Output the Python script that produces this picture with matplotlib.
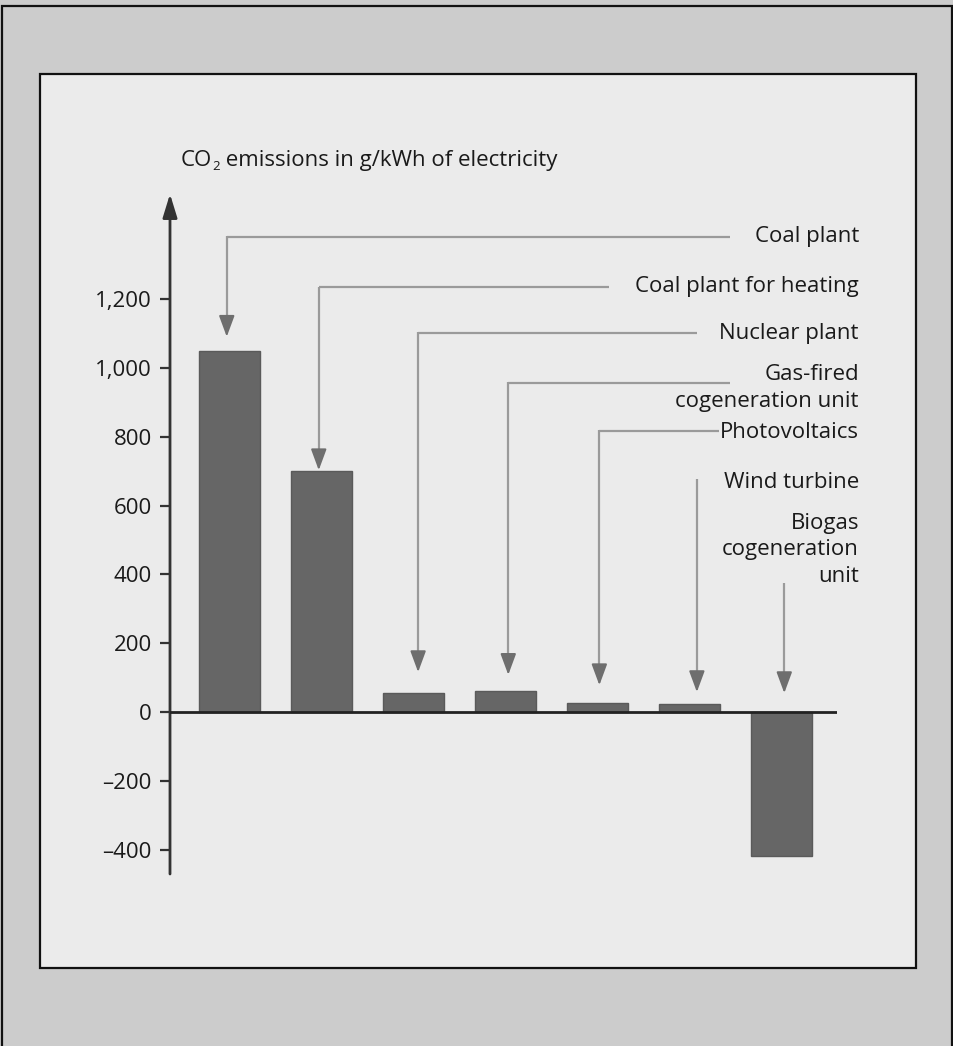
import matplotlib
matplotlib.use("Agg")
import matplotlib.pyplot as plt
from matplotlib.patches import Rectangle

plt.rcParams['font.family'] = ['Open Sans', 'DejaVu Sans']

# ---- data ----
categories = ["Coal plant", "Coal plant for heating", "Nuclear plant",
              "Gas-fired\ncogeneration unit", "Photovoltaics", "Wind turbine",
              "Biogas\ncogeneration\nunit"]
values = [1050, 700, 55, 60, 26, 22, -420]
yticks = [-400, -200, 0, 200, 400, 600, 800, 1000, 1200]
ytick_labels = ["\u2013400", "\u2013200", "0", "200", "400", "600", "800", "1,000", "1,200"]
title_parts = ["CO", "2", " emissions in g/kWh of electricity"]

# ---- layout (callouts) ----
line_y = [1381, 1235, 1102, 956, 817, 674, 372]      # start height of leader
line_end = [5.44, 4.125, 5.08, 5.44, 5.32, None, None]  # horizontal leader end (x)
arrow_dx = [-0.03, -0.03, 0.05, 0.03, 0.02, 0.08, 0.03]
arrow_gap = [41, 3, 61, 48, 52, 36, 55]
label_y = [1381, 1238, 1099, 942, 814, 666, 471]
label_x = 6.842

W, H = 954, 1046
fig = plt.figure(figsize=(W / 100, H / 100), dpi=100, facecolor="#cccccc")

# background panels
fig.patches.append(Rectangle((2 / W, -0.05), 950 / W, 1.05 - 6 / H,
                             transform=fig.transFigure, facecolor="#cccccc",
                             edgecolor="#111111", lw=1.6, zorder=-3))
fig.patches.append(Rectangle((40 / W, 1 - 968 / H), 876 / W, 894 / H,
                             transform=fig.transFigure, facecolor="#ebebeb",
                             edgecolor="#111111", lw=1.6, zorder=-2))

ax = fig.add_axes([170 / W, 1 - 874 / H, 667 / W, 680 / H])
ax.set_facecolor("none")
ax.set_xlim(-0.647, 6.603)
ax.set_ylim(-471, 1506)

x = list(range(len(values)))
ax.bar(x, values, width=0.663, color="#666666", edgecolor="#5a5a5a", lw=1.0, zorder=3)
ax.axhline(0, color="#222222", lw=2.0, zorder=4)

for s in ["top", "right", "bottom", "left"]:
    ax.spines[s].set_visible(False)
ax.set_xticks([])
ax.set_yticks(yticks)
ax.set_yticklabels(ytick_labels)
ax.tick_params(axis="y", direction="out", length=7, width=1.6, color="#333333",
               labelsize=16, labelcolor="#1a1a1a", pad=6)

# y axis with arrow
ax.annotate("", xy=(0, 1.0), xytext=(0, 0), xycoords="axes fraction",
            arrowprops=dict(arrowstyle="-|>,head_length=0.65,head_width=0.2",
                            color="#333333", lw=2.0,
                            mutation_scale=22, shrinkA=0, shrinkB=0))

# callouts
lead_col = "#9a9a9a"
head_col = "#6e6e6e"
head_len = 55  # data units of arrowhead region
for i, (cat, v) in enumerate(zip(categories, values)):
    xa = i + arrow_dx[i]
    tip = max(v, 0) + arrow_gap[i]
    if line_end[i] is not None:
        ax.plot([xa, line_end[i]], [line_y[i], line_y[i]], color=lead_col,
                lw=1.6, solid_capstyle="butt", clip_on=False, zorder=2)
    ax.plot([xa, xa], [line_y[i] + 2, tip + head_len], color=lead_col, lw=1.6,
            solid_capstyle="butt", clip_on=False, zorder=2)
    ax.annotate("", xy=(xa, tip), xytext=(xa, tip + head_len + 2), annotation_clip=False,
                arrowprops=dict(arrowstyle="-|>,head_length=0.65,head_width=0.24",
                                color=head_col, lw=1.4, mutation_scale=20,
                                shrinkA=0, shrinkB=0), zorder=2)
    ax.text(label_x, label_y[i], cat, ha="right", va="center", fontsize=16,
            color="#1a1a1a", linespacing=1.33, multialignment="right")

# title with small subscript
t1 = fig.text(181 / W, 1 - 171 / H, title_parts[0], ha="left", va="bottom",
              fontsize=16, color="#1a1a1a")
t2 = ax.annotate(title_parts[1], xy=(1, 0), xycoords=t1, xytext=(0, -1.5),
                 textcoords="offset points", ha="left", va="bottom",
                 fontsize=9.5, color="#1a1a1a", annotation_clip=False)
t3 = ax.annotate(title_parts[2], xy=(1, 0), xycoords=(t2, t1), xytext=(0.3, 0),
                 textcoords="offset points", ha="left", va="bottom",
                 fontsize=16, color="#1a1a1a", annotation_clip=False)

fig.savefig("out.png", dpi=100, facecolor=fig.get_facecolor())
